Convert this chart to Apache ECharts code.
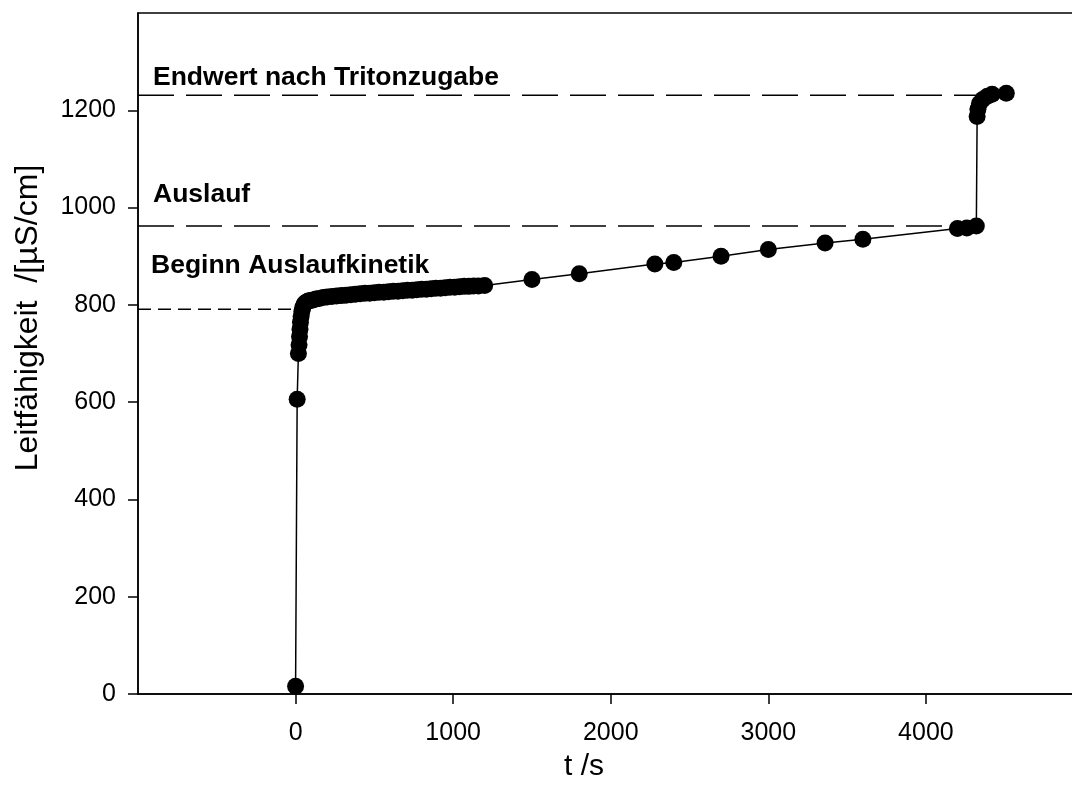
<!DOCTYPE html>
<html>
<head>
<meta charset="utf-8">
<script src="https://cdn.jsdelivr.net/npm/echarts@6/dist/echarts.min.js"></script>
<style>
  html, body { margin: 0; padding: 0; background: #fff; overflow: hidden; }
  /* the plot frame runs a little past the right edge of the window */
  #chart { width: 1084px; height: 801px; }
</style>
</head>
<body>
<div id="chart"></div>
<script>
// Conductivity over time (s) and measured values (µS/cm)
const timeS = [0, 10, 18, 22, 25, 28, 31, 35, 40, 46, 53, 60, 70, 80, 95, 110, 130, 150, 175, 200,
  230, 260, 290, 320, 350, 380, 410, 440, 470, 500, 530, 560, 590, 620, 650, 680, 710, 740, 770, 800,
  830, 860, 890, 920, 950, 980, 1010, 1040, 1070, 1100, 1130, 1160, 1200,
  1500, 1800, 2280, 2400, 2700, 3000, 3360, 3600, 4200, 4260, 4320,
  4325, 4330, 4340, 4360, 4390, 4420, 4510];
const conductivity = [16, 606, 700, 718, 735, 750, 764, 776, 787, 795, 800, 804, 806, 808, 809, 810, 812, 813, 815, 816,
  817, 818, 819, 820, 821, 822, 823, 824, 824, 825, 826, 826, 827, 828, 828, 829, 830, 830, 831, 832,
  832, 833, 834, 834, 835, 836, 836, 837, 838, 838, 839, 839, 840,
  852, 864, 884, 887, 900, 914, 927, 935, 957, 958, 962,
  1187, 1202, 1214, 1222, 1229, 1233, 1235];

// Reference levels (dashed) with their labels
const refLabels = ['Endwert nach Tritonzugabe', 'Auslauf', 'Beginn Auslaufkinetik'];
const refLevels = [1231, 962, 791];
const refEnds = [4340, 4200, 12];

// Axis ticks
const xTicks = [0, 1000, 2000, 3000, 4000];
const yTicks = [0, 200, 400, 600, 800, 1000, 1200];

const xMin = -1000, xMax = 5000, yMin = 0, yMax = 1400;

const chart = echarts.init(document.getElementById('chart'), null, { renderer: 'canvas' });

const refDash = [[36, 12], [36, 12], [13, 7]];
const refSeries = refLevels.map((lvl, i) => ({
  type: 'line',
  name: refLabels[i],
  data: [[xMin, lvl], [refEnds[i], lvl]],
  symbol: 'none',
  z: 1,
  silent: true,
  lineStyle: { color: '#000', width: 1.5, type: refDash[i] }
}));

const font = '"Liberation Sans", Arial, sans-serif';
const plain = v => String(v);

chart.setOption({
  animation: false,
  backgroundColor: '#fff',
  grid: {
    left: 138, top: 13, right: 0.5, height: 681,
    show: true, borderColor: '#000', borderWidth: 1.5, backgroundColor: 'transparent'
  },
  xAxis: {
    type: 'value', min: xMin, max: xMax, interval: 1000,
    axisLine: { show: true, onZero: false, lineStyle: { color: '#000', width: 1.5 } },
    axisTick: { show: true, length: 10, customValues: xTicks, lineStyle: { color: '#000', width: 1.5 } },
    axisLabel: { customValues: xTicks, formatter: plain, color: '#000', fontSize: 25, fontFamily: font, margin: 27 },
    splitLine: { show: false }
  },
  yAxis: {
    type: 'value', min: yMin, max: yMax, interval: 200,
    axisLine: { show: true, onZero: false, lineStyle: { color: '#000', width: 1.5 } },
    axisTick: { show: true, length: 10, customValues: yTicks, lineStyle: { color: '#000', width: 1.5 } },
    axisLabel: { customValues: yTicks, formatter: plain, color: '#000', fontSize: 25, fontFamily: font, margin: 22 },
    splitLine: { show: false }
  },
  graphic: [
    { type: 'text', left: 153, top: 64, style: { text: refLabels[0], font: 'bold 26.5px ' + font, fill: '#000' } },
    { type: 'text', left: 153, top: 181, style: { text: refLabels[1], font: 'bold 26.5px ' + font, fill: '#000' } },
    { type: 'text', left: 151, top: 252, style: { text: refLabels[2], font: 'bold 26.5px ' + font, fill: '#000' } },
    { type: 'text', x: 584, y: 767, style: { text: 't /s', font: '30px ' + font, fill: '#000', align: 'center', verticalAlign: 'middle' } },
    { type: 'text', x: 28, y: 318, rotation: Math.PI / 2, style: { text: 'Leitfähigkeit  /[µS/cm]', font: '32px ' + font, fill: '#000', align: 'center', verticalAlign: 'middle' } }
  ],
  series: refSeries.concat([{
    type: 'line',
    name: 'Leitfähigkeit',
    data: timeS.map((t, i) => [t, conductivity[i]]),
    symbol: 'circle',
    symbolSize: 17,
    z: 3,
    itemStyle: { color: '#000' },
    lineStyle: { color: '#000', width: 1.5 }
  }])
});
</script>
</body>
</html>
